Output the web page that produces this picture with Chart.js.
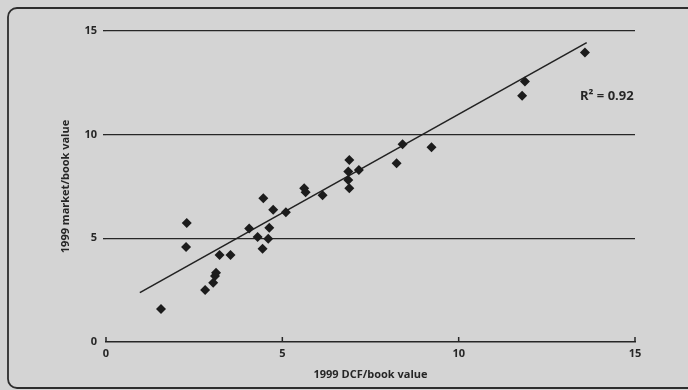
<!DOCTYPE html>
<html>
<head>
<meta charset="utf-8">
<script src="https://cdn.jsdelivr.net/npm/chart.js@4/dist/chart.umd.min.js"></script>
<style>
  html, body { margin: 0; padding: 0; background: #d6d6d6; }
  #wrap { width: 688px; height: 390px; }
</style>
</head>
<body>
<div id="wrap"><canvas id="chart" width="688" height="390"></canvas></div>
<script>
// 1999 DCF/book value vs 1999 market/book value
const dcfBook = [1.56, 2.29, 2.27, 2.81, 3.04, 3.09, 3.12, 3.22, 3.53, 4.06,
                 4.30, 4.46, 4.44, 4.63, 4.60, 4.74, 5.10, 5.62, 5.66, 6.14,
                 6.90, 6.87, 6.87, 6.90, 7.17, 8.24, 8.41, 9.23, 11.80, 11.88, 13.58];
const marketBook = [1.59, 5.74, 4.58, 2.51, 2.86, 3.18, 3.34, 4.20, 4.20, 5.47,
                    5.07, 6.93, 4.50, 5.51, 4.98, 6.38, 6.26, 7.41, 7.22, 7.08,
                    8.78, 8.22, 7.81, 7.41, 8.30, 8.62, 9.54, 9.39, 11.88, 12.56, 13.96];
// regression line end points
const fitX = [0.96, 13.63];
const fitY = [2.38, 14.44];
const xTicks = [0, 5, 10, 15];
const yTicks = [0, 5, 10, 15];
const r2Text = "R² = 0.92";

const ink = "#262626";
const font = { family: "'Open Sans', 'DejaVu Sans', sans-serif", size: 11, weight: "bold" };

const paperFrame = {
    id: "paperFrame",
    beforeDraw(chart) {
        const ctx = chart.ctx;
        ctx.save();
        ctx.fillStyle = "#d4d4d4";
        ctx.fillRect(0, 0, chart.width, chart.height);
        ctx.strokeStyle = "#2e2e2e";
        ctx.lineWidth = 1.8;
        ctx.beginPath();
        ctx.roundRect(8, 8, chart.width + 20, chart.height - 10, 9);
        ctx.stroke();
        ctx.restore();
    },
    afterDatasetsDraw(chart) {
        const { ctx, scales: { x, y } } = chart;
        ctx.save();
        // upward tick marks on the x axis
        ctx.strokeStyle = ink;
        ctx.lineWidth = 1.5;
        const y0 = y.getPixelForValue(0);
        xTicks.forEach(v => {
            const px = x.getPixelForValue(v);
            ctx.beginPath();
            ctx.moveTo(px, y0);
            ctx.lineTo(px, y0 - 5);
            ctx.stroke();
        });
        // R² label
        ctx.fillStyle = ink;
        ctx.font = "bold 13px 'Open Sans', 'DejaVu Sans', sans-serif";
        ctx.textBaseline = "middle";
        ctx.fillText(r2Text, x.getPixelForValue(13.44), y.getPixelForValue(11.83));
        ctx.restore();
    }
};

new Chart(document.getElementById("chart"), {
    type: "scatter",
    data: {
        datasets: [
            {
                label: "Companies",
                data: dcfBook.map((v, i) => ({ x: v, y: marketBook[i] })),
                pointStyle: "rectRot",
                pointRadius: 5,
                pointHoverRadius: 5,
                backgroundColor: "#1c1c1c",
                borderColor: "#1c1c1c",
                borderWidth: 0
            },
            {
                label: "Fit",
                type: "line",
                data: fitX.map((v, i) => ({ x: v, y: fitY[i] })),
                borderColor: "#222",
                borderWidth: 1.6,
                pointRadius: 0,
                fill: false
            }
        ]
    },
    options: {
        responsive: false,
        animation: false,
        layout: { padding: { top: 31, right: 53, left: 0, bottom: 0 } },
        plugins: { legend: { display: false }, tooltip: { enabled: false } },
        scales: {
            x: {
                type: "linear", min: 0, max: 15,
                afterBuildTicks: s => { s.ticks = xTicks.map(v => ({ value: v })); },
                afterFit: s => { s.height = 48; },
                grid: { display: false, drawTicks: false },
                border: { display: true, color: ink, width: 1.5 },
                ticks: { color: ink, font, padding: 5 },
                title: { display: true, text: "1999 DCF/book value", color: ink, font, padding: { top: 0, bottom: 9 } }
            },
            y: {
                type: "linear", min: 0, max: 15,
                afterBuildTicks: s => { s.ticks = yTicks.map(v => ({ value: v })); },
                afterFit: s => { s.width = 106; },
                grid: {
                    color: ctx => ctx.tick && ctx.tick.value === 0 ? "rgba(0,0,0,0)" : ink,
                    lineWidth: 1.3, drawTicks: true, tickLength: 3
                },
                border: { display: false },
                ticks: { color: ink, font, padding: 6 },
                title: { display: true, text: "1999 market/book value", color: ink, font, padding: { top: 59, bottom: 0 } }
            }
        }
    },
    plugins: [paperFrame]
});
</script>
</body>
</html>
